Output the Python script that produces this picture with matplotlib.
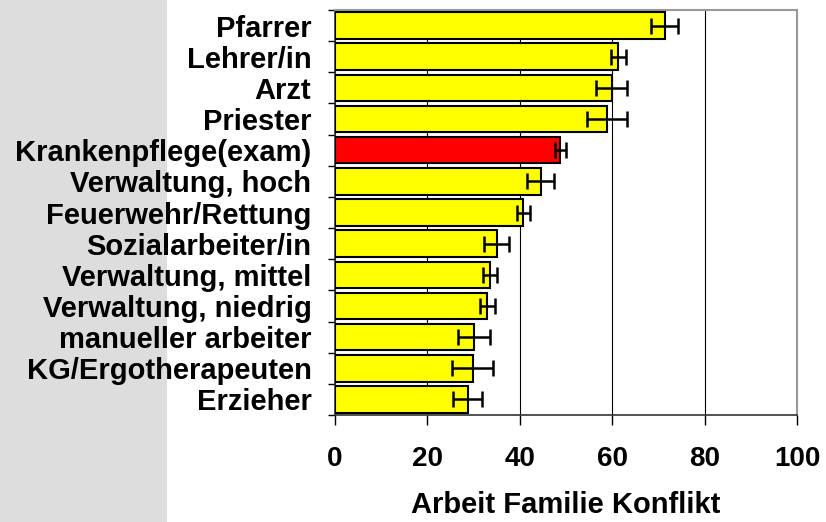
import matplotlib.pyplot as plt
import matplotlib.patches as patches
import numpy as np

# Data
categories = ['Pfarrer', 'Lehrer/in', 'Arzt', 'Priester', 'Krankenpflege(exam)',
              'Verwaltung, hoch', 'Feuerwehr/Rettung', 'Sozialarbeiter/in',
              'Verwaltung, mittel', 'Verwaltung, niedrig', 'manueller arbeiter',
              'KG/Ergotherapeuten', 'Erzieher']
values = [71.4, 61.3, 59.9, 58.9, 48.8, 44.5, 40.8, 35.0, 33.5, 33.0, 30.1, 29.8, 28.7]
errors = [2.9, 1.6, 3.3, 4.3, 1.2, 3.0, 1.5, 2.7, 1.5, 1.7, 3.4, 4.4, 3.2]
highlight = 'Krankenpflege(exam)'
x_ticks = [0, 20, 40, 60, 80, 100]
x_label = 'Arbeit Familie Konflikt'

plt.rcParams['font.family'] = ['Liberation Sans', 'DejaVu Sans']
plt.rcParams['font.weight'] = 'bold'

fig = plt.figure(figsize=(8.26, 5.22), dpi=100)
# grey band on the left side of the slide
fig.patches.append(patches.Rectangle((0, 0), 167 / 826, 1, transform=fig.transFigure,
                                     facecolor='#dddddd', edgecolor='none', zorder=-10))
ax = fig.add_axes([335 / 826, 107 / 522, 462 / 826, 405 / 522])

y = np.arange(len(categories))
colors = ['red' if c == highlight else 'yellow' for c in categories]
ax.barh(y, values, height=0.85, color=colors, edgecolor='black', linewidth=1.5, zorder=3)
ax.errorbar(values, y, xerr=errors, fmt='none', ecolor='black', elinewidth=1.8,
            capsize=5.5, capthick=1.8, zorder=4)

ax.set_xlim(0, 100)
ax.set_ylim(len(categories) - 0.5, -0.5)
ax.set_xticks(x_ticks)
ax.set_yticks(y)
ax.set_yticklabels(categories, fontsize=21, fontweight='bold')
ax.set_yticks(np.arange(len(categories) + 1) - 0.5, minor=True)
ax.tick_params(axis='y', which='major', length=0, pad=17)
ax.tick_params(axis='y', which='minor', length=5, width=1, direction='out')
ax.tick_params(axis='x', which='major', length=7, width=1, direction='out', pad=15,
               labelsize=20)
for lbl in ax.get_xticklabels():
    lbl.set_fontweight('bold')
ax.set_xlabel(x_label, fontsize=21, fontweight='bold', labelpad=14)

ax.grid(True, axis='x', color='black', linewidth=0.8, zorder=0)
ax.set_axisbelow(True)
for side in ['top', 'right']:
    ax.spines[side].set_color('#999999')
    ax.spines[side].set_linewidth(1.5)
for side in ['left', 'bottom']:
    ax.spines[side].set_color('#333333')
    ax.spines[side].set_linewidth(1.2)

plt.savefig('out.png', dpi=100)
